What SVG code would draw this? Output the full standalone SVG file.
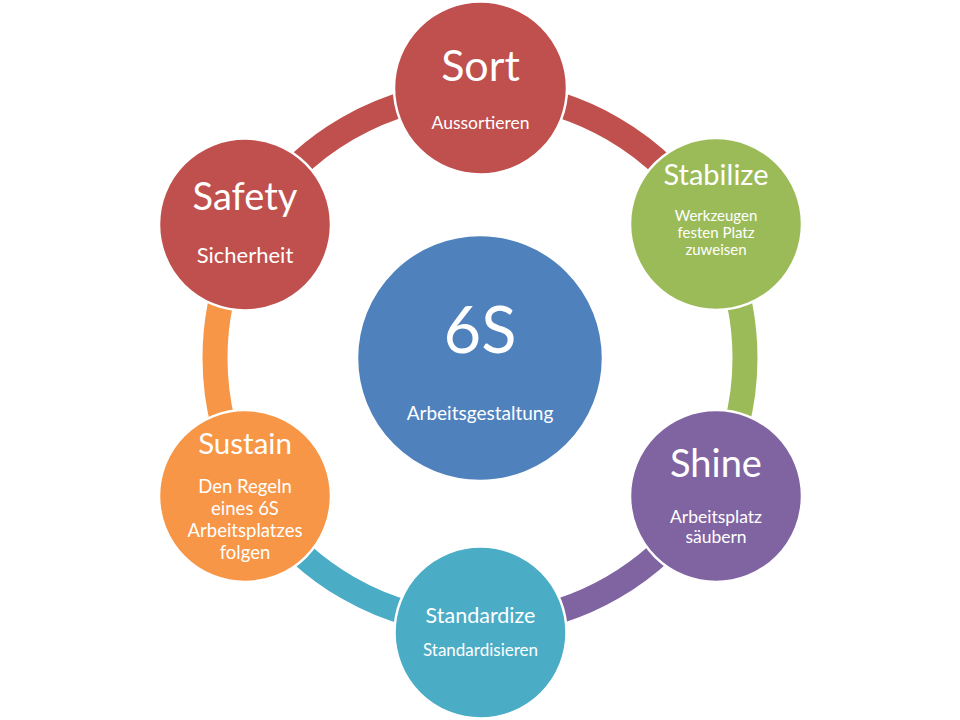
<svg xmlns="http://www.w3.org/2000/svg" width="960" height="720" viewBox="0 0 960 720">
<style>
text{font-family:Lato,"Open Sans","Liberation Sans",sans-serif;fill:#fff;text-anchor:middle}
.ring{fill:none;stroke-width:25}
.node{stroke:#fff;stroke-width:2.5}
</style>
<rect width="960" height="720" fill="#fff"/>
<g id="connectors">
<path class="ring" stroke="#C0504D" d="M480 93 A265 265 0 0 1 709.5 225.5"/>
<path class="ring" stroke="#9BBB59" d="M709.5 225.5 A265 265 0 0 1 709.5 490.5"/>
<path class="ring" stroke="#8064A2" d="M709.5 490.5 A265 265 0 0 1 480 623"/>
<path class="ring" stroke="#4BACC6" d="M480 623 A265 265 0 0 1 250.5 490.5"/>
<path class="ring" stroke="#F79646" d="M250.5 490.5 A265 265 0 0 1 250.5 225.5"/>
<path class="ring" stroke="#C0504D" d="M250.5 225.5 A265 265 0 0 1 480 93"/>
</g>
<g id="center">
<circle class="node" cx="480" cy="358" r="123" fill="#4F81BD"/>
<text x="480" y="353" font-size="65">6S</text>
<text x="480" y="420" font-size="19">Arbeitsgestaltung</text>
</g>
<g id="sort">
<circle class="node" cx="480.5" cy="88" r="86.5" fill="#C0504D"/>
<text x="480.5" y="81" font-size="43">Sort</text>
<text x="480.5" y="129" font-size="17.5">Aussortieren</text>
</g>
<g id="stabilize">
<circle class="node" cx="716" cy="224" r="86" fill="#9BBB59"/>
<text x="716" y="185" font-size="29">Stabilize</text>
<text x="716" y="221" font-size="15">Werkzeugen</text>
<text x="716" y="238" font-size="15">festen Platz</text>
<text x="716" y="255" font-size="15">zuweisen</text>
</g>
<g id="shine">
<circle class="node" cx="716" cy="496" r="86" fill="#8064A2"/>
<text x="716" y="477" font-size="38">Shine</text>
<text x="716" y="523" font-size="17.5">Arbeitsplatz</text>
<text x="716" y="543" font-size="17.5">säubern</text>
</g>
<g id="standardize">
<circle class="node" cx="480.5" cy="632.5" r="86" fill="#4BACC6"/>
<text x="480.5" y="623" font-size="21.5">Standardize</text>
<text x="480.5" y="656" font-size="17">Standardisieren</text>
</g>
<g id="sustain">
<circle class="node" cx="245" cy="496" r="86" fill="#F79646"/>
<text x="245" y="454" font-size="29.5">Sustain</text>
<text x="245" y="493" font-size="18.5">Den Regeln</text>
<text x="245" y="515" font-size="18.5">eines 6S</text>
<text x="245" y="537" font-size="18.5">Arbeitsplatzes</text>
<text x="245" y="559" font-size="18.5">folgen</text>
</g>
<g id="safety">
<circle class="node" cx="245" cy="224.5" r="86" fill="#C0504D"/>
<text x="245" y="210" font-size="38">Safety</text>
<text x="245" y="263" font-size="22">Sicherheit</text>
</g>
</svg>
